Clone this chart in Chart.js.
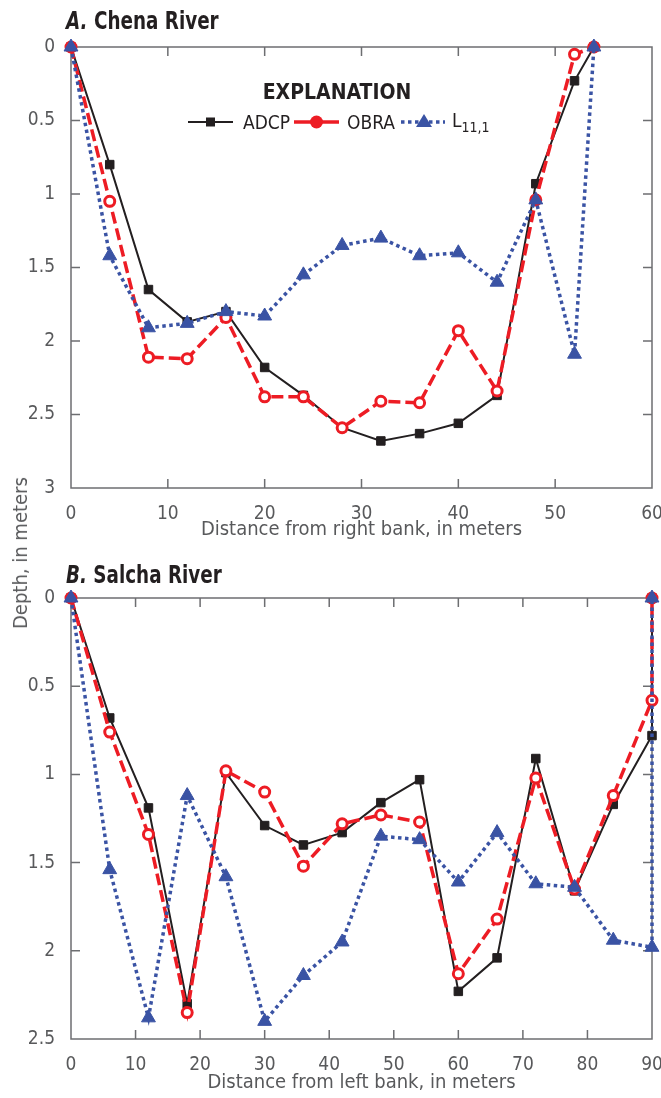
<!DOCTYPE html>
<html>
<head>
<meta charset="utf-8">
<script src="https://cdn.jsdelivr.net/npm/chart.js@4.4.1/dist/chart.umd.min.js"></script>
<style>
  body { margin: 0; background: #fff; }
  #wrap { position: relative; width: 661px; height: 1098px; font-family: "Liberation Sans Narrow", "DejaVu Sans Condensed", sans-serif; }
  canvas { position: absolute; left: 0; }
  .ttl { position: absolute; left: 66px; font-weight: bold; font-size: 24px; color: #231f20; white-space: nowrap; line-height: 1; transform: scaleX(0.85); transform-origin: left center; }
  .ylab { position: absolute; left: 20px; top: 553px; transform: translate(-50%, -50%) rotate(-90deg); font-size: 20px; color: #58595b; white-space: nowrap; }
  .expl { position: absolute; left: 337px; top: 92px; transform: translate(-50%, -50%); font-weight: bold; font-size: 21px; color: #231f20; }
  .lt { position: absolute; top: 122px; transform: translateY(-50%); font-size: 19px; color: #231f20; white-space: nowrap; }
  .lt sub { font-size: 14px; vertical-align: -5px; }
  svg { position: absolute; left: 0; top: 0; }
</style>
</head>
<body>
<div id="wrap">
  <canvas id="chena" width="661" height="545" style="top:0"></canvas>
  <canvas id="salcha" width="661" height="549" style="top:549px"></canvas>
  <div class="ttl" style="top:9px"><i>A.</i> Chena River</div>
  <div class="ttl" style="top:563px"><i>B.</i> Salcha River</div>
  <div class="ylab">Depth, in meters</div>
  <div class="expl">EXPLANATION</div>
  <svg width="661" height="160">
    <line x1="188" y1="122" x2="233" y2="122" stroke="#231f20" stroke-width="2"/>
    <rect x="206" y="117.5" width="9" height="9" fill="#231f20"/>
    <line x1="294" y1="122" x2="339" y2="122" stroke="#ed1c24" stroke-width="3.5"/>
    <circle cx="316.5" cy="122" r="6.5" fill="#ed1c24"/>
    <line x1="401" y1="122" x2="445" y2="122" stroke="#3a53a4" stroke-width="3.5" stroke-dasharray="3.5,3.5"/>
    <polygon points="424,114 432,127 416,127" fill="#3a53a4"/>
  </svg>
  <div class="lt" style="left:243px">ADCP</div>
  <div class="lt" style="left:347px">OBRA</div>
  <div class="lt" style="left:452px">L<sub>11,1</sub></div>
</div>
<script>
// Chena River, distance from right bank (m) and depth (m)
const chenaDist = [0, 4, 8, 12, 16, 20, 24, 28, 32, 36, 40, 44, 48, 52, 54];
const chenaADCP = [0, 0.80, 1.65, 1.87, 1.80, 2.18, 2.37, 2.59, 2.68, 2.63, 2.56, 2.37, 0.93, 0.23, 0];
const chenaOBRA = [0, 1.05, 2.11, 2.12, 1.84, 2.38, 2.38, 2.59, 2.41, 2.42, 1.93, 2.34, 1.04, 0.05, 0];
const chenaL = [0, 1.42, 1.91, 1.88, 1.80, 1.83, 1.55, 1.35, 1.30, 1.42, 1.40, 1.60, 1.04, 2.09, 0];

// Salcha River, distance from left bank (m) and depth (m)
const salchaDist = [0, 6, 12, 18, 24, 30, 36, 42, 48, 54, 60, 66, 72, 78, 84, 90, 90];
const salchaADCP = [0, 0.68, 1.19, 2.30, 0.99, 1.29, 1.40, 1.33, 1.16, 1.03, 2.23, 2.04, 0.91, 1.66, 1.17, 0.78, 0];
const salchaOBRA = [0, 0.76, 1.34, 2.35, 0.98, 1.10, 1.52, 1.28, 1.23, 1.27, 2.13, 1.82, 1.02, 1.65, 1.12, 0.58, 0];
const salchaL = [0, 1.54, 2.38, 1.12, 1.58, 2.40, 2.14, 1.95, 1.35, 1.37, 1.61, 1.33, 1.62, 1.64, 1.94, 1.98, 0];

const FONT = '"Liberation Sans Narrow", "DejaVu Sans Condensed", sans-serif';
const GREY = '#58595b';

function pts(xs, ys) {
  return xs.map((v, i) => ({ x: v, y: ys[i] }));
}

// box round the plot with tick marks pointing inward
const frameTicks = {
  id: 'frameTicks',
  beforeDatasetsDraw(chart) {
    const { ctx, chartArea: a, scales: { x, y } } = chart;
    ctx.save();
    ctx.strokeStyle = '#6d6e71';
    ctx.lineWidth = 1.5;
    ctx.strokeRect(a.left, a.top, a.right - a.left, a.bottom - a.top);
    ctx.beginPath();
    x.ticks.forEach(t => {
      const px = x.getPixelForValue(t.value);
      if (px <= a.left + 1 || px >= a.right - 1) return;
      ctx.moveTo(px, a.top); ctx.lineTo(px, a.top + 9);
      ctx.moveTo(px, a.bottom); ctx.lineTo(px, a.bottom - 9);
    });
    y.ticks.forEach(t => {
      const py = y.getPixelForValue(t.value);
      if (py <= a.top + 1 || py >= a.bottom - 1) return;
      ctx.moveTo(a.left, py); ctx.lineTo(a.left + 9, py);
      ctx.moveTo(a.right, py); ctx.lineTo(a.right - 9, py);
    });
    ctx.stroke();
    ctx.restore();
  }
};

function makeChart(id, dist, adcp, obra, lval, xMax, yMax, xTitle, padTop, xHeight) {
  return new Chart(document.getElementById(id), {
    type: 'line',
    data: {
      datasets: [
        {
          label: 'ADCP', data: pts(dist, adcp), order: 3,
          borderColor: '#231f20', borderWidth: 2,
          pointStyle: 'rect', pointRadius: 6, pointBorderWidth: 1,
          pointBackgroundColor: '#231f20', pointBorderColor: '#231f20'
        },
        {
          label: 'OBRA', data: pts(dist, obra), order: 2,
          borderColor: '#ed1c24', borderWidth: 3.5, borderDash: [12, 5],
          pointStyle: 'circle', pointRadius: 5, pointBorderWidth: 3,
          pointBackgroundColor: '#fff', pointBorderColor: '#ed1c24'
        },
        {
          label: 'L11,1', data: pts(dist, lval), order: 1,
          borderColor: '#3a53a4', borderWidth: 3.5, borderDash: [3.5, 3.5],
          pointStyle: 'triangle', pointRadius: 8, pointBorderWidth: 1,
          pointBackgroundColor: '#3a53a4', pointBorderColor: '#3a53a4'
        }
      ]
    },
    options: {
      responsive: false,
      animation: false,
      clip: false,
      tension: 0,
      layout: { padding: { top: padTop, right: 7, left: 0, bottom: 0 } },
      plugins: { legend: { display: false }, tooltip: { enabled: false } },
      scales: {
        x: {
          type: 'linear', min: 0, max: xMax,
          grid: { display: false }, border: { display: false },
          ticks: { stepSize: 10, padding: 7, color: GREY, font: { family: FONT, size: 19 } },
          title: { display: true, text: xTitle, color: GREY, padding: { top: 0, bottom: 3 }, font: { family: FONT, size: 20 } },
          afterFit: s => { s.height = xHeight; s.paddingLeft = 0; s.paddingRight = 0; }
        },
        y: {
          type: 'linear', min: 0, max: yMax, reverse: true,
          grid: { display: false }, border: { display: false },
          ticks: { stepSize: 0.5, padding: 8, color: GREY, font: { family: FONT, size: 19 }, callback: v => String(v) },
          afterFit: s => { s.width = 71; s.paddingTop = 0; s.paddingBottom = 0; }
        }
      }
    },
    plugins: [frameTicks]
  });
}

makeChart('chena', chenaDist, chenaADCP, chenaOBRA, chenaL, 60, 3,
  'Distance from right bank, in meters', 47, 57);
makeChart('salcha', salchaDist, salchaADCP, salchaOBRA, salchaL, 90, 2.5,
  'Distance from left bank, in meters', 49, 59);
</script>
</body>
</html>
